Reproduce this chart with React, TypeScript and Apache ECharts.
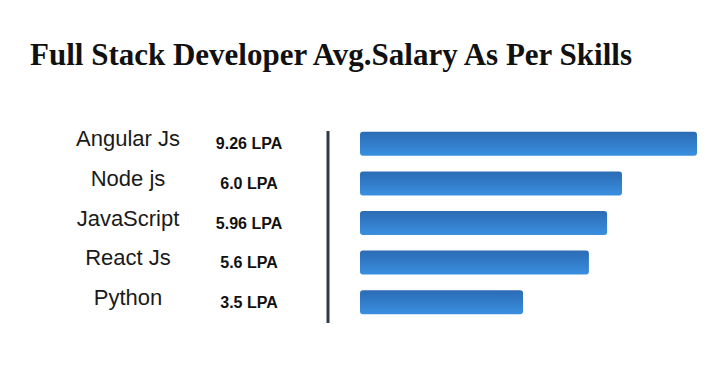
import React, { useEffect, useRef } from "react";
import * as echarts from "echarts";

const titleText = "Full Stack Developer Avg.Salary As Per Skills";
const skills = ["Angular Js", "Node js", "JavaScript", "React Js", "Python"];
const salaryLabels = ["9.26", "6.0", "5.96", "5.6", "3.5"];
// bar lengths as drawn in the picture (not proportional to the labels)
const barValues = [9.26, 7.2, 6.79, 6.29, 4.48];

export default function App() {
  const ref = useRef<HTMLDivElement>(null);
  useEffect(() => {
    if (!ref.current) return;
    const chart = echarts.init(ref.current, null, { renderer: "svg" });
    chart.setOption({
      animation: false,
      backgroundColor: "#ffffff",
      graphic: [
        {
          type: "text",
          left: 30,
          top: 39,
          style: {
            text: titleText,
            fontFamily: "Liberation Serif",
            fontWeight: "bold",
            fontSize: 31,
            fill: "#111111",
          },
        },
        {
          type: "line",
          shape: { x1: 328, y1: 131, x2: 328, y2: 323 },
          style: { stroke: "#2E3A46", lineWidth: 3 },
        },
      ],
      grid: { left: 360, right: 26, top: 124, height: 198, containLabel: false },
      xAxis: {
        type: "value",
        min: 0,
        max: 9.26,
        show: false,
      },
      yAxis: [
        {
          type: "category",
          data: skills,
          inverse: true,
          axisLine: { show: false },
          axisTick: { show: false },
          axisLabel: {
            margin: 232,
            align: "center",
            verticalAlign: "bottom",
            lineHeight: 10,
            fontFamily: "Liberation Sans",
            fontSize: 22,
            color: "#1a1a1a",
          },
        },
        {
          type: "category",
          data: skills,
          inverse: true,
          position: "left",
          axisLine: { show: false },
          axisTick: { show: false },
          axisLabel: {
            margin: 111,
            align: "center",
            fontFamily: "Liberation Sans",
            fontWeight: "bold",
            fontSize: 16,
            color: "#111111",
            formatter: (_v: string, i: number) => `${salaryLabels[i]} LPA`,
          },
        },
      ],
      series: [
        {
          type: "bar",
          data: barValues,
          barWidth: 24,
          itemStyle: {
            borderRadius: 3,
            color: new echarts.graphic.LinearGradient(0, 0, 0, 1, [
              { offset: 0, color: "#2B6BB4" },
              { offset: 1, color: "#3A8FE0" },
            ]),
          },
        },
      ],
    });
    return () => chart.dispose();
  }, []);
  return (
    <div
      ref={ref}
      style={{ position: "fixed", left: 0, top: 0, width: 723, height: 369 }}
    />
  );
}
